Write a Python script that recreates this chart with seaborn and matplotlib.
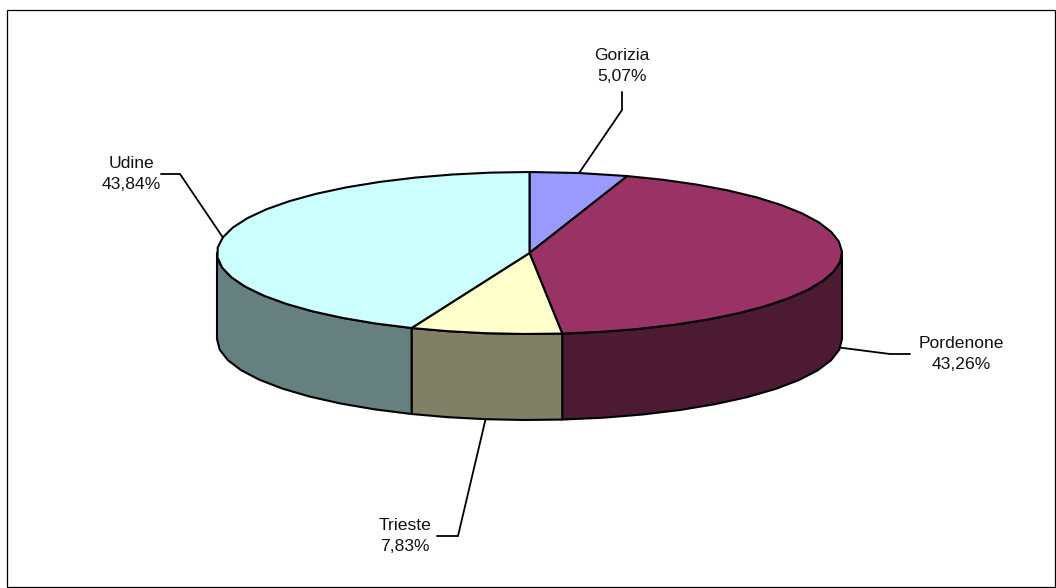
import numpy as np
import seaborn as sns
import matplotlib.pyplot as plt
from matplotlib.patches import Rectangle

provinces = ["Gorizia", "Pordenone", "Trieste", "Udine"]
shares = [5.07, 43.26, 7.83, 43.84]
top_colors = ["#9999FF", "#993366", "#FFFFCC", "#CCFFFF"]

# elbow and end of each leader line, next to the label (pixels)
elbows = [(622, 110), (890, 354), (458, 536), (180, 174)]
line_ends = [(622, 92), (910, 354), (437, 536), (161, 174)]
label_pos = [(622, 66), (961, 354), (405, 536), (131, 174)]

CX, CY = 529.5, 253
RX, RY = 312.5, 81
DEPTH = 86
STEP = 7


def rim(deg, drop=0):
    rad = np.radians(deg)
    return np.column_stack([CX + RX * np.sin(rad), CY - RY * np.cos(rad) + drop])


def arc(start, stop):
    n = max(int(abs(stop - start) / STEP), 1) + 1
    return np.linspace(start, stop, n)


def draw_side(ax, start, stop, color):
    # only the front half of the cylinder can be seen
    start, stop = max(start, 90), min(stop, 270)
    if stop <= start:
        return
    angles = arc(start, stop)
    pts = np.vstack([rim(angles), rim(angles[::-1], DEPTH)])
    ax.fill(pts[:, 0], pts[:, 1], facecolor=color, edgecolor="black", lw=1.5, joinstyle="round")


def draw_top(ax, start, stop, color):
    pts = np.vstack([[CX, CY], rim(arc(start, stop))])
    ax.fill(pts[:, 0], pts[:, 1], facecolor=color, edgecolor="black", lw=1.5, joinstyle="round")


sns.set_theme(style="white")
plt.rcParams["font.family"] = ["Liberation Sans", "DejaVu Sans"]

fig = plt.figure(figsize=(10.56, 5.88), dpi=100)
ax = fig.add_axes([0, 0, 1, 1])
ax.set_xlim(0, 1056)
ax.set_ylim(588, 0)
ax.axis("off")

ax.add_patch(Rectangle((7, 10), 1048, 577, facecolor="white", edgecolor="black", lw=0.9))

palette = sns.color_palette(top_colors)
edges = np.concatenate([[0], np.cumsum(shares)]) * 3.6
edges[-1] = 360

for i in range(len(shares)):
    draw_side(ax, edges[i], edges[i + 1], np.array(palette[i]) * 0.5)
for i in range(len(shares)):
    draw_top(ax, edges[i], edges[i + 1], palette[i])

for i, name in enumerate(provinces):
    mid = (edges[i] + edges[i + 1]) / 2
    # leader starts on the visible rim: side bottom for the front half
    drop = DEPTH if 90 < mid < 270 else 0
    start = rim(np.array([mid]), drop)[0]
    xs = [start[0], elbows[i][0], line_ends[i][0]]
    ys = [start[1], elbows[i][1], line_ends[i][1]]
    ax.plot(xs, ys, color="black", lw=1.3, solid_joinstyle="miter")
    label = f"{name}\n{shares[i]:.2f}%".replace(".", ",")
    ax.text(label_pos[i][0], label_pos[i][1], label, ha="center", va="center",
            fontsize=12.6, color="#111111", linespacing=1.42)

fig.savefig("out.png", dpi=100)
